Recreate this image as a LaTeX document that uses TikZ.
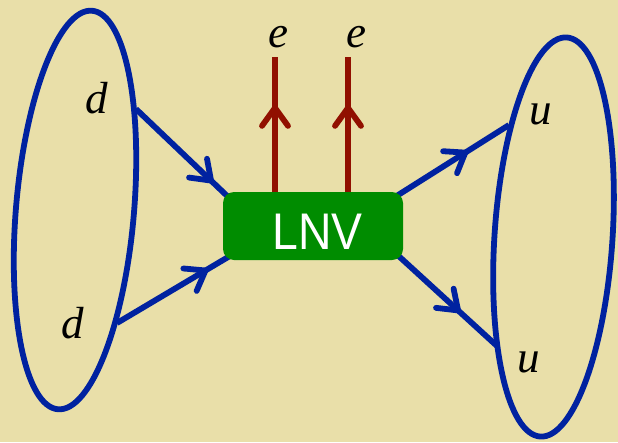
\documentclass[tikz,border=0pt]{standalone}
\usepackage{fontspec}
\setmainfont{Liberation Serif}
\setsansfont{Liberation Sans}
\usetikzlibrary{arrows.meta,decorations.markings}
\definecolor{bgc}{RGB}{233,223,169}
\definecolor{qblue}{RGB}{0,34,160}
\definecolor{qred}{RGB}{145,16,0}
\definecolor{qgreen}{RGB}{0,140,0}
\pgfdeclarelayer{back}
\pgfdeclarelayer{mid}
\pgfsetlayers{back,mid,main}
\tikzset{
  chev/.tip={Straight Barb[length=18pt,width=26pt,round]},
  fline/.style={line width=5.8pt, postaction={decorate},
    decoration={markings, mark=at position #1 with {\arrow[line width=5.8pt]{chev}}}},
  quark/.style={fline=#1, draw=qblue},
  lepton/.style={fline=#1, draw=qred},
  bag/.style={draw=qblue, line width=5.8pt},
  box/.style={fill=qgreen, rounded corners=11pt, minimum width=180pt, minimum height=68pt,
    inner sep=0pt, text=white, font=\sffamily\fontsize{51.5}{52}\selectfont},
  lbl/.style={inner sep=0pt, font=\itshape\fontsize{45}{45}\selectfont}
}
\begin{document}
\begin{tikzpicture}[x=1pt,y=-1pt]
\useasboundingbox (0,0) rectangle (618,442);
\begin{pgfonlayer}{back}
  \fill[bgc] (0,0) rectangle (618,442);
\end{pgfonlayer}
% box
\node[box] (lnv) at (313,226) {\hspace*{9pt}\raisebox{-5.5pt}[\height][0pt]{\scalebox{0.9}[1]{LNV}}};
% labels
\node[lbl] (d1) at (97,98) {d};
\node[lbl] (d2) at (73,323) {d};
\node[lbl] (u1) at (541,114) {u};
\node[lbl] (u2) at (529,362) {u};
\node[lbl] (e1) at (278,37) {e};
\node[lbl] (e2) at (356,37) {e};
% ellipses
\draw[bag, rotate around={-4.9:(75,210)}] (75,210) ellipse [x radius=59pt, y radius=200pt];
\draw[bag, rotate around={-3.8:(553.5,237)}] (553.5,237) ellipse [x radius=59pt, y radius=200pt];
% end points on the ellipses and top ends of the lepton lines
\coordinate (pd1) at (136,109);
\coordinate (pd2) at (117,323);
\coordinate (pu1) at (509,125);
\coordinate (pu2) at (497,346);
\coordinate (t1) at (275,57);
\coordinate (t2) at (348,57);
\begin{pgfonlayer}{mid}
  \draw[quark=0.89, shorten >=-8pt] (pd1) -- (lnv.north west);
  \draw[quark=0.86, shorten >=-8pt] (pd2) -- (lnv.south west);
  \draw[quark=0.61, shorten <=-8pt] (lnv.north east) -- (pu1);
  \draw[quark=0.61, shorten <=-8pt] (lnv.south east) -- (pu2);
  \draw[lepton=0.644, shorten <=-4pt] (t1 |- lnv.north) -- (t1);
  \draw[lepton=0.644, shorten <=-4pt] (t2 |- lnv.north) -- (t2);
\end{pgfonlayer}
\end{tikzpicture}
\end{document}
